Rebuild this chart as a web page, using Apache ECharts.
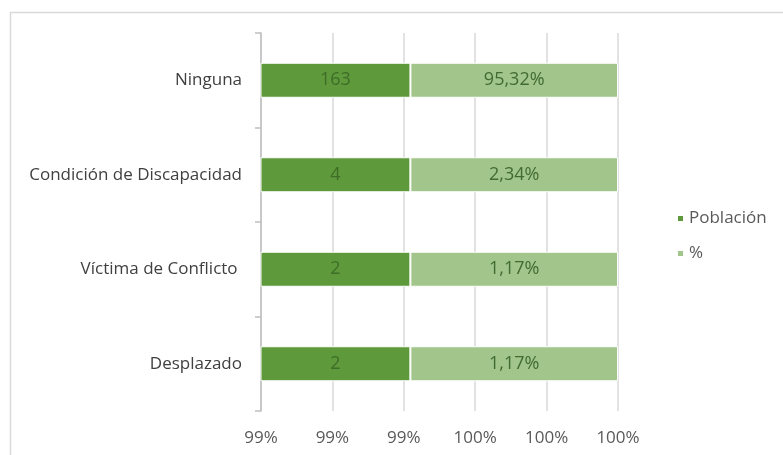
<!DOCTYPE html>
<html>
<head>
<meta charset="utf-8">
<script src="https://cdn.jsdelivr.net/npm/echarts@6/dist/echarts.min.js"></script>
<style>html,body{margin:0;padding:0;background:#fff}#c{width:783px;height:455px}</style>
</head>
<body>
<div id="c"></div>
<script>
var categories = ['Desplazado', 'Víctima de Conflicto ', 'Condición de Discapacidad', 'Ninguna'];
var poblacion = [2, 2, 4, 163];
var porcentaje = [1.17, 1.17, 2.34, 95.32];
var xTicks = [99, 99.2, 99.4, 99.6, 99.8, 100];

// 100% stacked: each row is Población + (%/100)
var darkShare = poblacion.map(function (v, i) { return v / (v + porcentaje[i] / 100) * 100; });
var lightShare = poblacion.map(function (v, i) { return (porcentaje[i] / 100) / (v + porcentaje[i] / 100) * 100; });

var chart = echarts.init(document.getElementById('c'));
var font = 'Open Sans';
chart.setOption({
  animation: false,
  textStyle: { fontFamily: font },
  graphic: [{
    type: 'rect', left: 8, top: 10, shape: { width: 900, height: 600 },
    style: { fill: 'none', stroke: '#d9d9d9', lineWidth: 1.5 }, silent: true, z: -1
  }],
  grid: { left: 261, right: 165, top: 33, bottom: 44 },
  legend: {
    orient: 'vertical', left: 671, top: 205, itemWidth: 7, itemHeight: 7, itemGap: 18,
    icon: 'rect',
    textStyle: { color: '#595959', fontSize: 17, fontFamily: font },
    data: ['Población', '%']
  },
  xAxis: {
    type: 'value', min: xTicks[0], max: xTicks[xTicks.length - 1], interval: 0.2,
    axisLine: { show: false }, axisTick: { show: false },
    splitLine: { lineStyle: { color: '#d9d9d9', width: 1.5 } },
    axisLabel: {
      color: '#595959', fontSize: 17, margin: 19,
      formatter: function (v) { return Math.round(v) + '%'; }
    }
  },
  yAxis: {
    type: 'category', data: categories,
    axisLine: { lineStyle: { color: '#bfbfbf', width: 1.5 } },
    axisTick: { show: true, length: 6, lineStyle: { color: '#bfbfbf', width: 1.5 } },
    axisLabel: { color: '#404040', fontSize: 17, margin: 19 }
  },
  series: [{
    name: 'Población', type: 'bar', stack: 's', barWidth: 35,
    data: darkShare,
    itemStyle: { color: '#5e993b', borderColor: '#ffffff', borderWidth: 1 },
    label: {
      show: true, position: 'inside', color: '#3e6d27', fontSize: 18,
      formatter: function (p) { return String(poblacion[p.dataIndex]); }
    }
  }, {
    name: '%', type: 'bar', stack: 's', barWidth: 35,
    data: lightShare,
    itemStyle: { color: '#a1c58b', borderColor: '#ffffff', borderWidth: 1 },
    label: {
      show: true, position: 'inside', color: '#426b33', fontSize: 18,
      formatter: function (p) { return porcentaje[p.dataIndex].toFixed(2).replace('.', ',') + '%'; }
    }
  }]
});
</script>
</body>
</html>
